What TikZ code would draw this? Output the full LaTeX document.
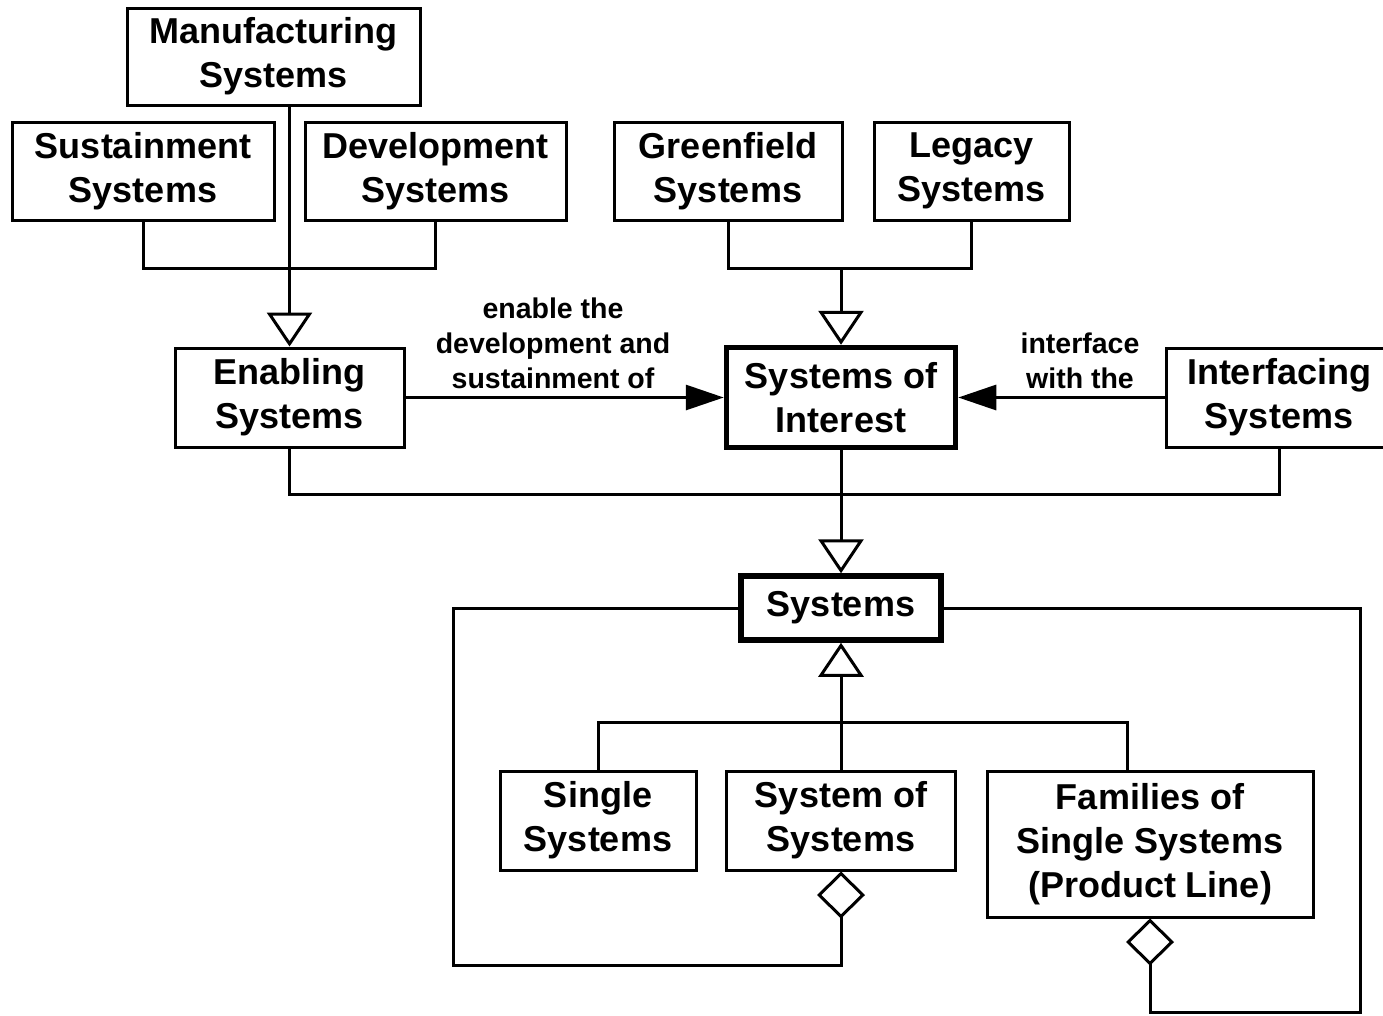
\documentclass[tikz,border=0pt]{standalone}
\usepackage{fontspec}
\setmainfont{Liberation Sans}
\usetikzlibrary{arrows.meta,calc}
\begin{document}
\begin{tikzpicture}[x=1pt,y=-1pt,
  box/.style={draw, line width=3pt, inner sep=0pt, align=center,
    font=\fontsize{36}{44}\selectfont\bfseries, fill=white},
  thickbox/.style={box, line width=5.5pt},
  lbl/.style={align=center, inner sep=0pt,
    font=\fontsize{28.5}{35}\selectfont\bfseries},
  wire/.style={line width=3pt},
  gen/.style={wire, -{Triangle[open, length=34pt, width=45pt]}},
  uses/.style={wire, -{Triangle[length=38pt, width=25pt]}},
  agg/.style={wire, {Diamond[open, length=47pt, width=48pt]}-},
]
\useasboundingbox (0,0) rectangle (1383,1015);

% top row of kinds of systems
\node[box, minimum width=293pt, minimum height=97pt] (mf) at (273.5,56.5) {Manufacturing\\Systems};
\node[box, minimum width=262pt, minimum height=98pt] (su) at (143,171) {Sustainment\\Systems};
\node[box, minimum width=261pt, minimum height=98pt] (de) at (435.5,171) {Development\\Systems};
\node[box, minimum width=228pt, minimum height=98pt] (gf) at (728,171) {Greenfield\\Systems};
\node[box, minimum width=195pt, minimum height=98pt] (lg) at (971.5,171) {Legacy\\Systems};

% middle row
\node[box, minimum width=229pt, minimum height=99pt] (en) at (289.5,397.5) {Enabling\\Systems};
\node[thickbox, minimum width=229pt, minimum height=100pt] (soi) at (841,397.5) {Systems of\\Interest};
\node[box, minimum width=226pt, minimum height=99pt] (if) at (1279,397.5) {Interfacing\\Systems};

% systems and their kinds
\node[thickbox, minimum width=200pt, minimum height=64pt] (sys) at (841,608) {Systems};
\node[box, minimum width=196pt, minimum height=99pt] (si) at (598,820.5) {Single\\Systems};
\node[box, minimum width=229pt, minimum height=99pt] (sos) at (841,820.5) {System of\\Systems};
\node[box, minimum width=326pt, minimum height=146pt] (fam) at (1150,844) {Families of\\Single Systems\\(Product Line)};

% bends of the connectors
\coordinate (bus1) at (0,268);
\coordinate (bus2) at (0,494);
\coordinate (hub) at (841,722);
\coordinate (famtop) at (1127,771);
\coordinate (lcorner) at (453,965);
\coordinate (rcorner) at (1360,1012);

% enabling systems generalization
\draw[wire] (su.south) -- (su.south |- bus1) -- (de.south |- bus1) -- (de.south);
\draw[gen] (mf.south -| en.north) -- (en.north);

% systems of interest generalization
\draw[wire] (gf.south) -- (gf.south |- bus1) -- (lg.south |- bus1) -- (lg.south);
\draw[gen] (soi.north |- bus1) -- (soi.north);

% associations
\draw[uses] (en.east) -- (soi.west);
\draw[uses] (if.west) -- (soi.east);
\node[lbl] (l1) at (553,343) {enable the\\development and\\sustainment of};
\node[lbl] (l2) at (1080,361) {interface\\with the};

% all three are systems
\draw[wire] (en.south) -- (en.south |- bus2) -- (if.south |- bus2) -- (if.south);
\draw[gen] (soi.south) -- (sys.north);

% kinds of systems
\draw[wire] (si.north) |- (hub) -| (famtop);
\draw[wire] (sos.north) -- (hub);
\draw[gen] (hub) -- (sys.south);

% aggregations
\draw[agg] (sos.south) |- (lcorner) |- (sys.west);
\draw[agg] (fam.south) |- (rcorner) |- (sys.east);
\end{tikzpicture}
\end{document}
